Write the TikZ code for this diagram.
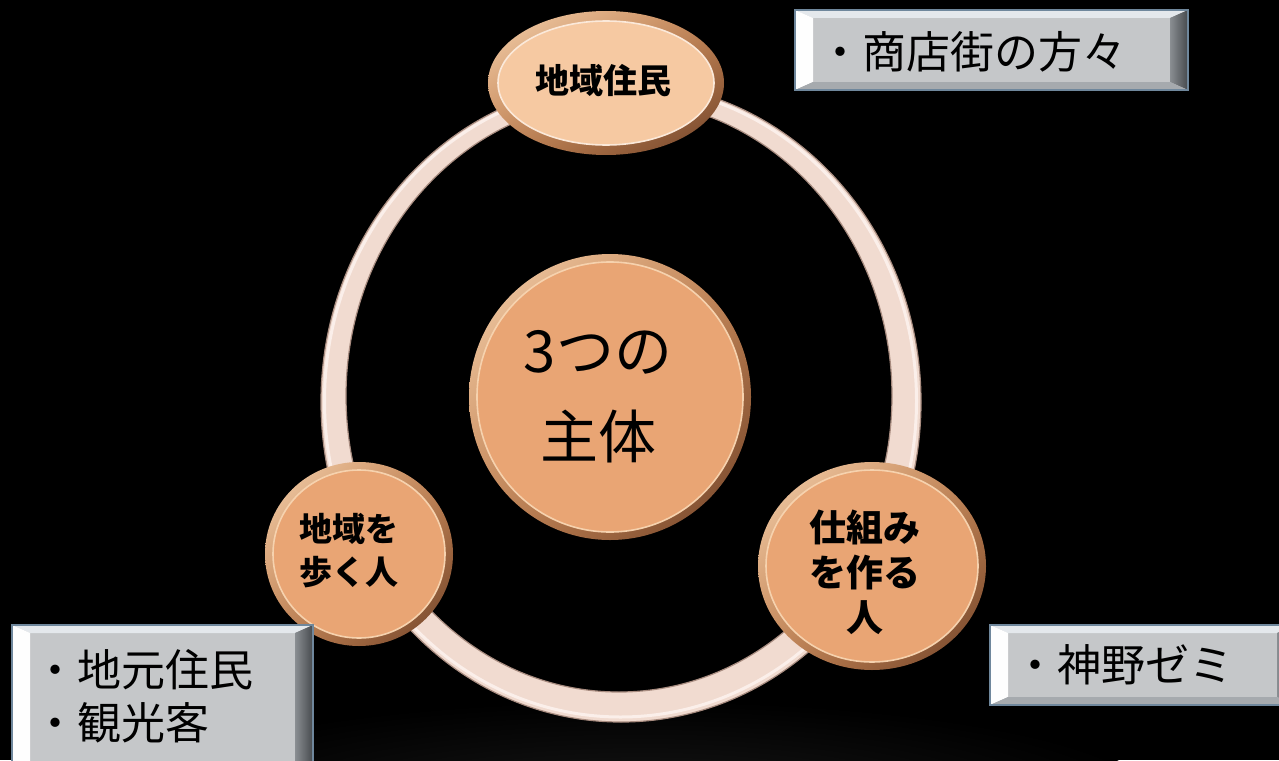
\documentclass[tikz,border=0pt]{standalone}
\usepackage{fontspec}
\usetikzlibrary{shadings}
\newfontfamily\jp{Noto Sans CJK JP}
\definecolor{ringedge}{HTML}{A88C80}
\definecolor{ringface}{HTML}{F1DBD0}
\definecolor{ringhi}{HTML}{FBEFEA}
\definecolor{copperdark}{HTML}{6E4026}
\definecolor{copperlight}{HTML}{F6D2AE}
\definecolor{coppermid}{HTML}{C48454}
\definecolor{copperface}{HTML}{E9A574}
\definecolor{peachface}{HTML}{F6C9A2}
\definecolor{boxface}{HTML}{C5C7C9}
\definecolor{boxtop}{HTML}{E4E8EC}
\definecolor{boxbot}{HTML}{A6AAAE}
\definecolor{boxdark}{HTML}{45494D}
\definecolor{boxmid}{HTML}{8A8E92}
\definecolor{boxline}{HTML}{6F879C}
\newcommand\copperdisc[4]{% x y rx ry
  \shade[upper left=copperlight, upper right=coppermid, lower left=coppermid, lower right=copperdark] (#1,#2) ellipse ({#3} and {#4});
  \fill[copperface] (#1,#2) ellipse ({#3-8} and {#4-8});
  \draw[copperlight, line width=1.6] (#1,#2) ellipse ({#3-8} and {#4-8});
}
\newcommand\bevbox[4]{% x1 y1 x2 y2
  \fill[boxface] (#1,#2) rectangle (#3,#4);
  \fill[boxtop] (#1,#2) -- (#3,#2) -- (#3-18,#2+8) -- (#1+18,#2+8) -- cycle;
  \fill[white!96!boxtop] (#1,#2) -- (#1+18,#2+8) -- (#1+18,#4-8) -- (#1,#4) -- cycle;
  \shade[left color=boxmid, right color=boxdark] (#3,#2) -- (#3-18,#2+8) -- (#3-18,#4-8) -- (#3,#4) -- cycle;
  \fill[boxbot] (#1,#4) -- (#1+18,#4-8) -- (#3-18,#4-8) -- (#3,#4) -- cycle;
  \draw[boxline, line width=1.5] (#1,#2) rectangle (#3,#4);
}
\tikzset{
  boldlab/.style={font=\jp\bfseries, align=center, inner sep=0pt, text=black},
  boxtext/.style={font=\jp\fontsize{44}{53}\selectfont, align=left, inner sep=0pt, anchor=west, text=black}
}
\begin{document}
\begin{tikzpicture}[x=1pt,y=-1pt]
\useasboundingbox (0,0) rectangle (1279,760);
\fill[black] (0,0) rectangle (1279,760);
\begin{scope}
  \clip (0,0) rectangle (1279,760);
  \shade[inner color={rgb,255:red,22;green,22;blue,22}, outer color=black] (640,800) ellipse (520 and 100);
\end{scope}
% ring (band between two ellipses)
\fill[ringface, even odd rule] (621,402) ellipse (300 and 320) (619,396) ellipse (273 and 296);
\draw[ringhi, line width=3] (620.5,401) ellipse (296 and 316);
\draw[ringedge, line width=1.2] (621,402) ellipse (300 and 320);
\draw[ringedge, line width=1.2] (619,396) ellipse (273 and 296);
% top ellipse
\shade[upper left=copperlight, upper right=coppermid, lower left=coppermid, lower right=copperdark] (606,83) ellipse (118 and 72);
\fill[peachface] (606,83) ellipse (108 and 62);
\draw[white!60!peachface, line width=1.6] (606,83) ellipse (108 and 62);
\node[boldlab, font=\jp\bfseries\fontsize{34}{40}\selectfont] (resident) at (603,81) {地域住民};
% central circle
\copperdisc{610}{397}{141}{143}
\node[boldlab, font=\jp\fontsize{58}{86}\selectfont] (center) at (598,397) {3つの\\主体};
% left circle
\copperdisc{359}{554}{94}{92}
\node[boldlab, font=\jp\bfseries\fontsize{33}{43}\selectfont] (walker) at (349,551) {地域を\\歩く人};
% right circle
\copperdisc{872}{566}{114}{104}
\node[boldlab, font=\jp\bfseries\fontsize{37}{45}\selectfont] (maker) at (865,572) {仕組み\\を作る\\人};
% boxes
\bevbox{795}{10}{1188}{90}
\node[boxtext] (shop) at (818,52) {・商店街の方々};
\bevbox{12}{625}{313}{790}
\node[boxtext] (locals) at (33,696) {・地元住民\\・観光客};
\bevbox{990}{625}{1295}{705}
\node[boxtext] (zemi) at (1013,665) {・神野ゼミ};
\end{tikzpicture}
\end{document}
